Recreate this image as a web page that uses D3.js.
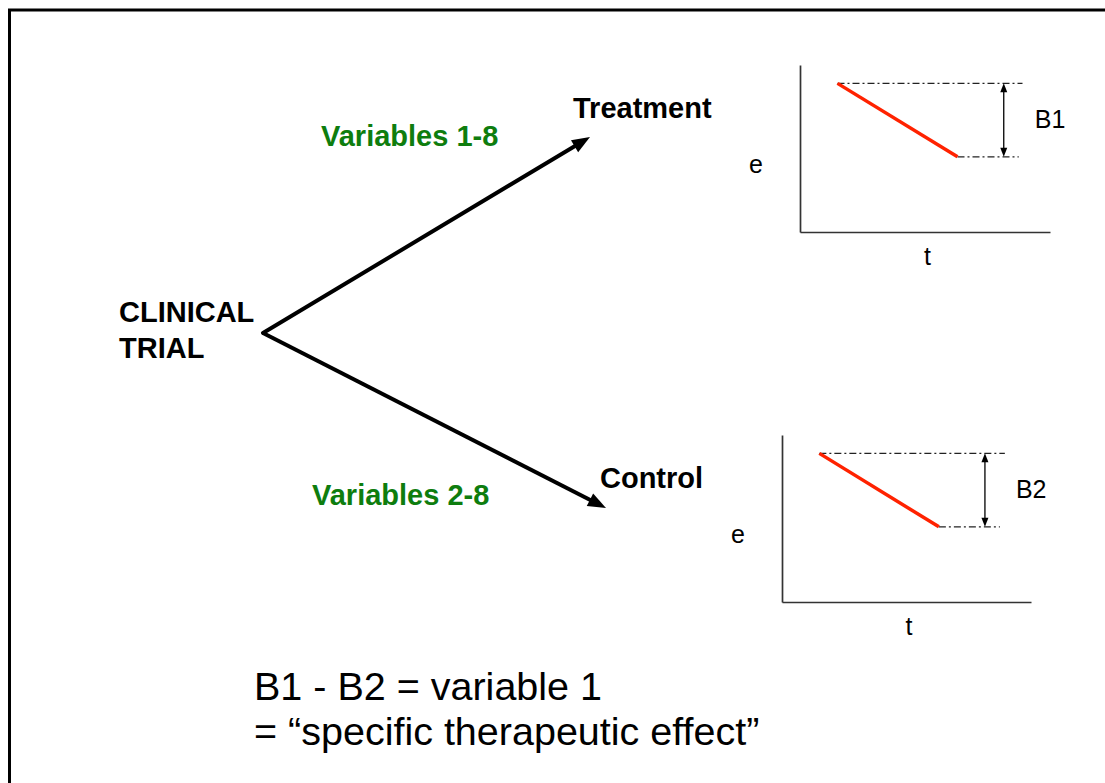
<!DOCTYPE html>
<html>
<head>
<meta charset="utf-8">
<title>clinical trial</title>
<style>
 body { margin: 0; background: #fff; }
 svg text { font-family: "Liberation Sans", Arial, sans-serif; }
</style>
</head>
<body>
<div id="chart"></div>
<script src="https://d3js.org/d3.v7.min.js"></script>
<script>

// arms of the trial
const arms = ["Treatment", "Control"];
const armVars = ["Variables 1-8", "Variables 2-8"];
const gapLabels = ["B1", "B2"];

// red line in each small e/t panel (0-10 units on both axes)
const tStart = [1.5, 1.5];
const tEnd = [6.3, 6.3];
const eStart = [8.9, 8.9];
const eEnd = [4.5, 4.5];
// dash-dot guides and the double arrow, in t units
const guideTopEnd = [8.9, 8.95];
const guideBottomEnd = [8.75, 8.75];
const gapAt = [8.15, 8.15];

const rootLabel = ["CLINICAL", "TRIAL"];
const formula = ["B1 - B2 = variable 1", "= \u201cspecific therapeutic effect\u201d"];

const width = 1105;
const height = 783;

const svg = d3.select("#chart")
  .append("svg")
  .attr("width", width)
  .attr("height", height);

// frame (runs off the right and bottom of the page)
svg.append("rect")
  .attr("x", 9.5).attr("y", 10)
  .attr("width", 1200).attr("height", 900)
  .attr("fill", "none").attr("stroke", "#000").attr("stroke-width", 3);

// ---- tree: root -> two arms
const root = { x: 263, y: 333 };
const tips = [{ x: 590, y: 137 }, { x: 606, y: 508 }];

function arrow(g, a, b, w, headLen, headW) {
  const ang = Math.atan2(b.y - a.y, b.x - a.x);
  const bx = b.x - Math.cos(ang) * (headLen - 2);
  const by = b.y - Math.sin(ang) * (headLen - 2);
  g.append("line")
    .attr("x1", a.x).attr("y1", a.y)
    .attr("x2", bx).attr("y2", by)
    .attr("stroke", "#000").attr("stroke-width", w);
  g.append("path")
    .attr("d", `M0,0 L${-headLen},${-headW / 2} L${-headLen},${headW / 2} Z`)
    .attr("transform", `translate(${b.x},${b.y}) rotate(${ang * 180 / Math.PI})`)
    .attr("fill", "#000");
}

const tree = svg.append("g");
tips.forEach(t => arrow(tree, root, t, 4, 18, 14));
tree.select("line").attr("stroke-linecap", "round");

svg.append("g")
  .attr("font-size", "29px").attr("font-weight", "bold")
  .selectAll("text")
  .data(rootLabel)
  .join("text")
    .attr("x", 119)
    .attr("y", (d, i) => 322 + i * 36)
    .text(d => d);

const armPos = [{ x: 573, y: 118 }, { x: 600, y: 488 }];
svg.append("g")
  .attr("font-size", "29px").attr("font-weight", "bold")
  .selectAll("text")
  .data(arms)
  .join("text")
    .attr("x", (d, i) => armPos[i].x)
    .attr("y", (d, i) => armPos[i].y)
    .text(d => d);

const varPos = [{ x: 321, y: 146 }, { x: 312, y: 505 }];
svg.append("g")
  .attr("font-size", "29px").attr("font-weight", "bold").attr("fill", "#0e7d0e")
  .selectAll("text")
  .data(armVars)
  .join("text")
    .attr("x", (d, i) => varPos[i].x)
    .attr("y", (d, i) => varPos[i].y)
    .text(d => d);

// ---- small e vs t panels
const panels = [
  { left: 800, top: 65, w: 250, h: 167 },
  { left: 782, top: 435, w: 249, h: 167 }
];

panels.forEach((p, i) => {
  const x = d3.scaleLinear().domain([0, 10]).range([p.left, p.left + p.w]);
  const y = d3.scaleLinear().domain([0, 10]).range([p.top + p.h, p.top]);
  const g = svg.append("g");

  g.append("g")
    .attr("transform", `translate(${x(0)},0)`)
    .call(d3.axisLeft(y).tickValues([]).tickSizeOuter(0))
    .select(".domain").attr("stroke", "#333").attr("stroke-width", 1.7);
  g.append("g")
    .attr("transform", `translate(0,${y(0)})`)
    .call(d3.axisBottom(x).tickValues([]).tickSizeOuter(0))
    .select(".domain").attr("stroke", "#333").attr("stroke-width", 1.7);

  // dash-dot guides
  g.append("line")
    .attr("x1", x(tStart[i])).attr("x2", x(guideTopEnd[i]))
    .attr("y1", y(eStart[i])).attr("y2", y(eStart[i]))
    .attr("stroke", "#222").attr("stroke-width", 1.1)
    .attr("stroke-dasharray", "7,3,2,3");
  g.append("line")
    .attr("x1", x(tEnd[i])).attr("x2", x(guideBottomEnd[i]))
    .attr("y1", y(eEnd[i])).attr("y2", y(eEnd[i]))
    .attr("stroke", "#222").attr("stroke-width", 1.1)
    .attr("stroke-dasharray", "7,3,2,3");

  // red decline
  g.append("line")
    .attr("x1", x(tStart[i])).attr("y1", y(eStart[i]))
    .attr("x2", x(tEnd[i])).attr("y2", y(eEnd[i]))
    .attr("stroke", "#ff2200").attr("stroke-width", 3.5);

  // double arrow showing the gap
  const ax = x(gapAt[i]);
  const top = { x: ax, y: y(eStart[i]) };
  const bot = { x: ax, y: y(eEnd[i]) };
  const mid = { x: ax, y: (top.y + bot.y) / 2 };
  arrow(g, mid, top, 1.3, 9, 7);
  arrow(g, mid, bot, 1.3, 9, 7);

  g.append("text")
    .attr("x", ax + 31).attr("y", (top.y + bot.y) / 2 + 8)
    .attr("font-size", "25px")
    .text(gapLabels[i]);

  g.append("text")
    .attr("x", x(0) - 44).attr("y", y(eEnd[i]) + 16)
    .attr("text-anchor", "middle")
    .attr("font-size", "25px")
    .text("e");
  g.append("text")
    .attr("x", x(5.1)).attr("y", y(0) + 33)
    .attr("text-anchor", "middle")
    .attr("font-size", "25px")
    .text("t");
});

// ---- formula at the bottom
svg.append("g")
  .attr("font-size", "39.5px")
  .selectAll("text")
  .data(formula)
  .join("text")
    .attr("x", 254)
    .attr("y", (d, i) => 700 + i * 45)
    .text(d => d);

</script>
</body>
</html>
